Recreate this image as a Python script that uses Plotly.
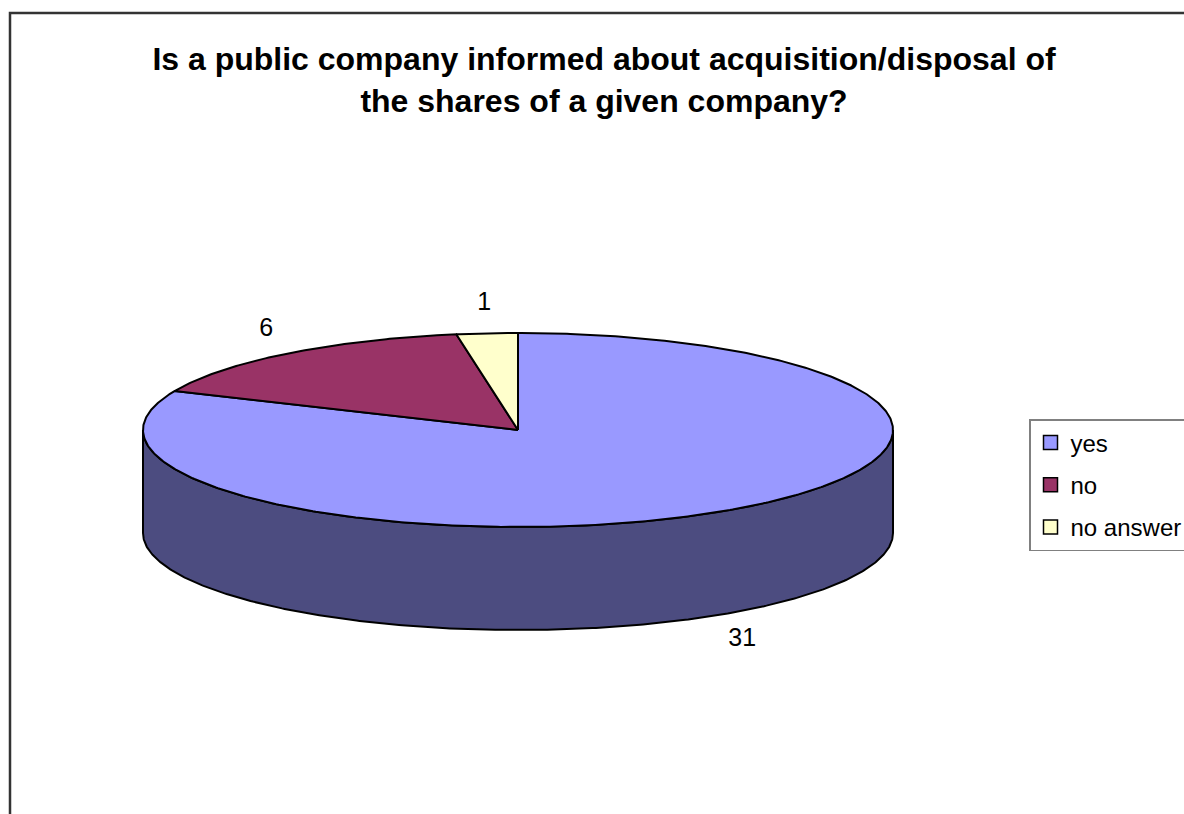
import numpy as np
import plotly.graph_objects as go

# Survey answers
categories = ["yes", "no", "no answer"]
counts = [31, 6, 1]
top_colors = ["#9999FF", "#993366", "#FFFFCC"]
side_colors = ["#4C4C80", "#4D1A33", "#808066"]

title_text = ("<b>Is a public company informed about acquisition/disposal of<br>"
              "the shares of a given company?</b>")

FONT = "Liberation Sans, Arial, sans-serif"
W, H = 1184, 814

# 3D pie geometry in pixel space (angles clockwise from 12 o'clock)
CX, CY = 518, 430
RX, RY = 375, 97
DEPTH = 103


def rim(a0, a1, dy=0.0):
    t = np.radians(np.linspace(a0, a1, max(int(abs(a1 - a0) * 2), 2) + 1))
    return CX + RX * np.sin(t), CY - RY * np.cos(t) + dy


total = float(sum(counts))
bounds = np.concatenate([[0.0], np.cumsum(counts) / total * 360.0])

fig = go.Figure()

# side walls (only the front half, 90..270 degrees, is visible)
for i, cat in enumerate(categories):
    a0, a1 = bounds[i], bounds[i + 1]
    s, e = max(a0, 90.0), min(a1, 270.0)
    if e <= s:
        continue
    tx, ty = rim(s, e)
    bx, by = rim(e, s, DEPTH)
    xs = np.concatenate([tx, bx, tx[:1]])
    ys = np.concatenate([ty, by, ty[:1]])
    fig.add_trace(go.Scatter(
        x=xs, y=ys, mode="lines", fill="toself",
        fillcolor=side_colors[i], line=dict(color="black", width=2),
        showlegend=False, hoverinfo="skip"))

# top faces
for i, cat in enumerate(categories):
    a0, a1 = bounds[i], bounds[i + 1]
    rx_, ry_ = rim(a0, a1)
    xs = np.concatenate([[CX], rx_, [CX]])
    ys = np.concatenate([[CY], ry_, [CY]])
    fig.add_trace(go.Scatter(
        x=xs, y=ys, mode="lines", fill="toself",
        fillcolor=top_colors[i], line=dict(color="black", width=2),
        showlegend=False, hoverinfo="skip"))

# value labels outside each slice
lx, ly = [], []
for i in range(len(categories)):
    m = np.radians((bounds[i] + bounds[i + 1]) / 2)
    front = np.cos(m) < 0
    lx.append(CX + (RX + 35) * np.sin(m))
    ly.append(CY - (RY + 30) * np.cos(m) + (DEPTH if front else 0))
fig.add_trace(go.Scatter(
    x=lx, y=ly, mode="text", text=[str(c) for c in counts],
    textfont=dict(family=FONT, size=25, color="black"),
    showlegend=False, hoverinfo="skip"))

# legend entries
for i, cat in enumerate(categories):
    fig.add_trace(go.Scatter(
        x=[None], y=[None], mode="markers", name=cat, legendgroup=cat,
        marker=dict(symbol="square", size=14, color=top_colors[i],
                    line=dict(color="black", width=1.5))))

fig.update_layout(
    width=W, height=H,
    margin=dict(l=0, r=0, t=0, b=0, autoexpand=False),
    paper_bgcolor="white", plot_bgcolor="white",
    title=dict(text=title_text, x=604 / W, xanchor="center",
               y=1 - 70 / H, yanchor="top", yref="container",
               font=dict(family=FONT, size=32, color="black")),
    xaxis=dict(range=[0, W], visible=False, fixedrange=True),
    yaxis=dict(range=[H, 0], visible=False, fixedrange=True),
    legend=dict(x=1029 / W, xanchor="left", y=1 - 419 / H, yanchor="top",
                bgcolor="white", bordercolor="#808080", borderwidth=1.5,
                font=dict(family=FONT, size=24, color="black"),
                tracegroupgap=8, itemsizing="trace"),
    hovermode=False,
    shapes=[dict(type="rect", xref="x", yref="y", x0=10, y0=13, x1=1210, y1=840,
                 line=dict(color="#333333", width=2.5), fillcolor="rgba(0,0,0,0)")],
)

fig.write_html("out.html")
